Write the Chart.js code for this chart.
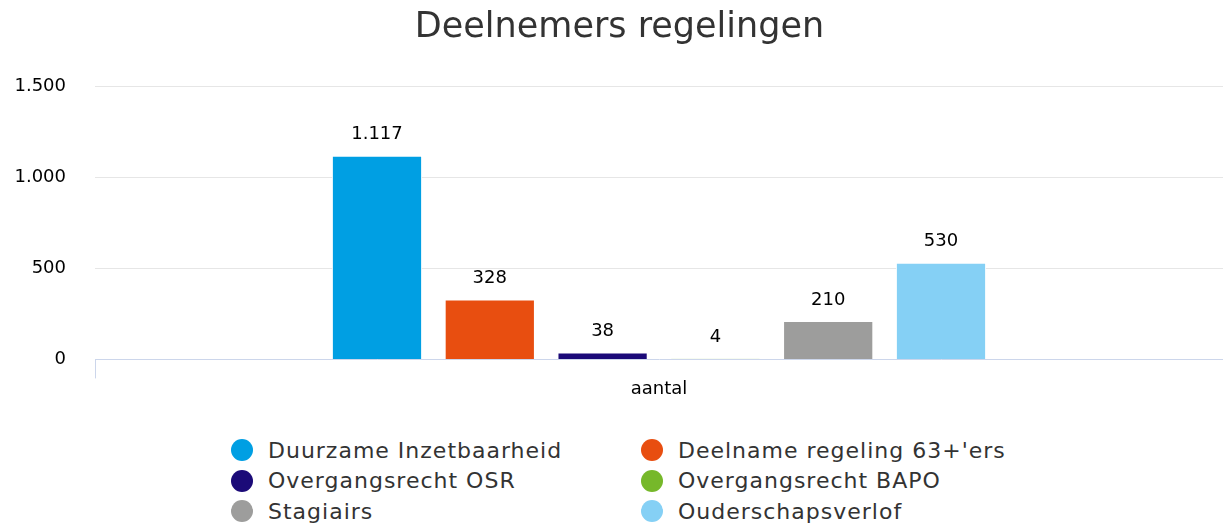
<!DOCTYPE html>
<html>
<head>
<meta charset="utf-8">
<script src="https://cdn.jsdelivr.net/npm/chart.js@4"></script>
<style>
    body { margin: 0; background: #fff; font-family: "DejaVu Sans", Verdana, sans-serif; }
    #wrap { position: relative; width: 1223px; height: 524px; }
    #box { position: absolute; left: 0; top: 0; width: 1223px; height: 420px; }
    #legend {
        position: absolute; left: 231px; top: 435px;
        display: grid; grid-template-columns: 410px 420px; grid-auto-rows: 30.5px;
        font-size: 22px; letter-spacing: 1px; color: #333;
    }
    .item { display: flex; align-items: center; white-space: nowrap; }
    .dot { width: 22px; height: 22px; border-radius: 50%; margin-right: 15px; flex: none; }
</style>
</head>
<body>
<div id="wrap">
    <div id="box"><canvas id="chart"></canvas></div>
    <div id="legend"></div>
</div>
<script>
const categories = ['aantal'];
const seriesNames = ['Duurzame Inzetbaarheid', "Deelname regeling 63+'ers", 'Overgangsrecht OSR',
    'Overgangsrecht BAPO', 'Stagiairs', 'Ouderschapsverlof'];
const seriesValues = [1117, 328, 38, 4, 210, 530];
const seriesColors = ['#009fe3', '#e84e10', '#1b0a78', '#76b82a', '#9d9d9c', '#85d0f5'];
const yTicks = [0, 500, 1000, 1500];

// Nederlandse notatie: 1.117
function fmt(v) {
    return String(v).replace(/\B(?=(\d{3})+(?!\d))/g, '.');
}

const labelPlugin = {
    id: 'barLabels',
    afterDatasetsDraw(chart) {
        const ctx = chart.ctx;
        ctx.save();
        ctx.font = '18px "DejaVu Sans"';
        ctx.fillStyle = '#000';
        ctx.textAlign = 'center';
        ctx.textBaseline = 'middle';
        chart.data.datasets.forEach((ds, i) => {
            chart.getDatasetMeta(i).data.forEach((bar, j) => {
                ctx.fillText(fmt(ds.data[j]), bar.x, bar.y - 21);
            });
        });
        ctx.restore();
    }
};

new Chart(document.getElementById('chart'), {
    type: 'bar',
    data: {
        labels: categories,
        datasets: seriesNames.map((name, i) => ({
            label: name,
            data: [seriesValues[i]],
            backgroundColor: seriesColors[i],
            borderColor: '#fff',
            borderWidth: 1,
            categoryPercentage: 0.6,
            barPercentage: 0.8
        }))
    },
    options: {
        responsive: true,
        maintainAspectRatio: false,
        animation: false,
        layout: { padding: { left: 16, right: 0, bottom: 20 } },
        plugins: {
            legend: { display: false },
            tooltip: { enabled: false },
            title: {
                display: true,
                text: 'Deelnemers regelingen',
                color: '#333',
                font: { family: 'DejaVu Sans', size: 35, weight: 'normal' },
                padding: { top: 7, bottom: 37 }
            }
        },
        scales: {
            x: {
                grid: { display: true, drawOnChartArea: false, color: '#ccd6eb', tickLength: 19 },
                border: { display: true, color: '#ccd6eb' },
                ticks: { color: '#000', padding: 0, font: { family: 'DejaVu Sans', size: 18 } }
            },
            y: {
                min: 0,
                max: 1500,
                afterFit: s => { s.width = 79; },
                afterBuildTicks: s => { s.ticks = yTicks.map(v => ({ value: v })); },
                grid: {
                    drawTicks: false,
                    color: c => c.tick && c.tick.value === 0 ? 'rgba(0,0,0,0)' : '#e6e6e6'
                },
                border: { display: false },
                ticks: {
                    color: '#000',
                    padding: 29,
                    font: { family: 'DejaVu Sans', size: 18 },
                    callback: v => fmt(v)
                }
            }
        }
    },
    plugins: [labelPlugin]
});

const legend = document.getElementById('legend');
seriesNames.forEach((name, i) => {
    const item = document.createElement('div');
    item.className = 'item';
    const dot = document.createElement('span');
    dot.className = 'dot';
    dot.style.background = seriesColors[i];
    const txt = document.createElement('span');
    txt.textContent = name;
    item.appendChild(dot);
    item.appendChild(txt);
    legend.appendChild(item);
});
</script>
</body>
</html>
